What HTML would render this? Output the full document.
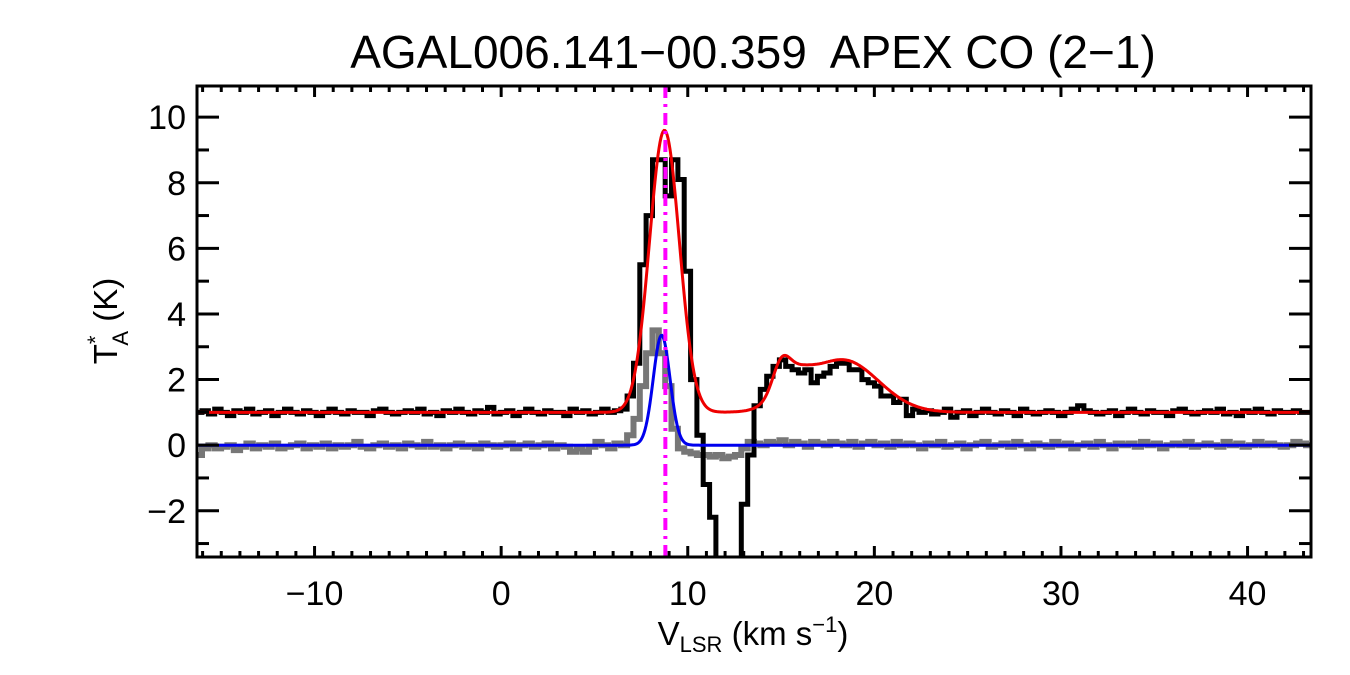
<!DOCTYPE html>
<html><head><meta charset="utf-8">
<style>
html,body{margin:0;padding:0;background:#fff;}
svg{display:block;font-family:"Liberation Sans",Arial,sans-serif;}
</style></head>
<body>
<svg id="chart" width="1350" height="675" viewBox="0 0 1350 675">
<text x="753" y="68" text-anchor="middle" font-size="46" xml:space="preserve">AGAL006.141−00.359  APEX CO (2−1)</text>
<g id="plot"></g>
<text transform="translate(117,321) rotate(-90)" text-anchor="middle" font-size="33">T<tspan font-size="22" dy="-14">*</tspan><tspan font-size="22" dx="-10" dy="25">A</tspan><tspan dy="-11"> (K)</tspan></text>
<text x="753" y="645" text-anchor="middle" font-size="33">V<tspan font-size="22" dy="7">LSR</tspan><tspan dy="-7"> (km s</tspan><tspan font-size="22" dy="-13">−1</tspan><tspan dy="13">)</tspan></text>
</svg>
<script>
// ---- data ----
const v0 = -16.2, dv = 0.34;
const blackT = [
1.0,1.05,0.95,1.1,1.0,0.9,1.05,1.0,1.1,0.95,1.0,1.05,0.9,1.0,1.1,1.0,0.95,1.05,1.0,0.9,
1.0,1.1,1.0,0.95,1.05,1.0,1.0,0.9,1.05,1.1,1.0,0.95,1.0,1.05,1.0,1.1,0.95,1.0,0.9,1.05,
1.0,1.1,1.0,0.95,1.05,1.0,1.15,0.95,1.0,1.05,0.9,1.0,1.1,1.0,0.95,1.05,1.0,1.0,0.9,1.1,
1.0,1.05,0.95,1.0,1.1,1.0,1.05,1.1,1.5,2.5,5.5,7.0,8.7,8.7,7.6,8.7,8.1,5.3,2.0,0.3,
-1.2,-2.2,-4,-4,-4,-4,-1.8,-0.3,1.2,1.7,2.1,2.4,2.6,2.4,2.3,2.2,2.3,1.9,2.1,2.2,
2.4,2.5,2.5,2.3,2.3,2.0,1.9,1.8,1.5,1.5,1.3,1.4,0.9,1.1,1.0,1.05,0.95,1.0,1.1,0.85,
1.0,1.05,0.9,1.0,1.1,1.0,0.95,1.05,1.0,0.9,1.1,1.0,0.95,1.0,1.05,1.0,0.9,1.0,1.1,1.2,
1.05,1.0,0.95,1.0,1.05,0.9,1.0,1.1,1.0,0.95,1.05,1.0,1.0,0.9,1.05,1.1,1.0,0.95,1.0,1.05,
1.0,1.1,0.95,1.0,0.9,1.05,1.0,1.1,1.0,0.95,1.05,1.0,1.0,1.05,1.0,1.0];
const greyT = [
-0.3,-0.1,0.0,-0.1,-0.05,0.0,-0.15,-0.05,0.05,-0.1,0.0,-0.05,0.05,-0.1,-0.05,0.0,0.05,-0.1,0.0,-0.05,
0.05,-0.1,0.0,-0.05,0.0,0.1,-0.05,-0.1,0.0,0.05,-0.05,0.0,-0.1,0.05,0.0,-0.05,0.1,-0.05,0.0,-0.1,
0.0,0.05,-0.05,0.0,-0.1,0.05,0.0,-0.05,0.0,0.05,-0.1,0.0,0.05,-0.05,0.0,0.05,-0.1,0.0,-0.05,-0.2,
-0.1,-0.2,-0.05,0.1,0.0,-0.1,0.05,0.0,0.3,0.8,1.8,2.8,3.5,2.8,1.8,0.5,-0.1,-0.2,-0.25,-0.3,
-0.3,-0.35,-0.3,-0.4,-0.35,-0.3,-0.1,0.1,0.05,0.0,0.1,0.05,0.15,0.0,0.1,0.05,-0.05,0.1,0.05,0.0,
0.1,0.05,0.0,0.1,-0.05,0.05,0.1,0.0,0.05,-0.05,0.1,0.0,0.05,0.0,-0.1,0.05,0.0,0.1,-0.05,0.0,
0.05,-0.1,0.0,0.05,0.1,-0.05,0.0,0.05,-0.05,0.1,0.0,-0.1,0.05,0.0,-0.05,0.1,0.0,0.05,-0.1,0.0,
0.05,-0.05,0.1,0.0,-0.1,0.05,0.0,0.05,-0.05,0.1,0.0,0.05,-0.1,0.0,0.05,0.0,0.1,-0.05,0.0,0.05,
0.0,-0.05,0.1,0.0,0.05,-0.05,0.0,0.1,0.0,0.05,0.0,-0.05,0.0,0.1,0.05,0.0];
const redBase = 1.0;
const redAmp = [8.6, 0.75, 1.6, 0.7];
const redCen = [8.75, 15.0, 18.3, 15.6];
const redSig = [0.8, 0.45, 1.9, 0.9];
const blueAmp = [3.35];
const blueCen = [8.6];
const blueSig = [0.45];
const markerV = 8.8;
const xTicks = [-10, 0, 10, 20, 30, 40];
const yTicks = [-2, 0, 2, 4, 6, 8, 10];

// ---- axes ----
const L = 197, R = 1311, T = 86, B = 557;
const xMin = -16.3, xMax = 43.4, yMin = -3.41, yMax = 10.95;
const sx = v => L + (v - xMin) / (xMax - xMin) * (R - L);
const sy = t => B - (t - yMin) / (yMax - yMin) * (B - T);
const NS = "http://www.w3.org/2000/svg";
const plot = document.getElementById('plot');
function mk(tag, attrs, parent) {
  const e = document.createElementNS(NS, tag);
  for (const k in attrs) e.setAttribute(k, attrs[k]);
  (parent || plot).appendChild(e);
  return e;
}
const defs = mk('defs', {});
const cp = mk('clipPath', {id: 'clip'}, defs);
mk('rect', {x: L, y: T, width: R - L, height: B - T}, cp);
const g = mk('g', {'clip-path': 'url(#clip)'});

function stepPath(arr) {
  let d = '';
  arr.forEach((t, i) => {
    const xa = sx(v0 + i * dv - dv / 2), xb = sx(v0 + i * dv + dv / 2), y = sy(t);
    d += (i === 0 ? 'M' : 'L') + xa.toFixed(1) + ',' + y.toFixed(1) + 'L' + xb.toFixed(1) + ',' + y.toFixed(1);
  });
  return d;
}
function gaussPath(base, amp, cen, sig) {
  let d = '';
  for (let px = L; px <= R; px += 1) {
    const v = xMin + (px - L) / (R - L) * (xMax - xMin);
    let t = base;
    for (let k = 0; k < amp.length; k++) t += amp[k] * Math.exp(-0.5 * Math.pow((v - cen[k]) / sig[k], 2));
    d += (px === L ? 'M' : 'L') + px + ',' + sy(t).toFixed(1);
  }
  return d;
}
const gp = mk('path', {d: stepPath(greyT), fill: 'none', stroke: '#777', 'stroke-width': 6}, g);


const bp = mk('path', {d: stepPath(blackT), fill: 'none', stroke: '#000', 'stroke-width': 5}, g);


const blp = mk('path', {d: gaussPath(0, blueAmp, blueCen, blueSig), fill: 'none', stroke: '#0000ee', 'stroke-width': 3}, g);


const rp = mk('path', {d: gaussPath(redBase, redAmp, redCen, redSig), fill: 'none', stroke: '#ee0000', 'stroke-width': 3}, g);


const ml = mk('line', {x1: sx(markerV), x2: sx(markerV), y1: T, y2: B, stroke: '#ff00ff', 'stroke-width': 4, 'stroke-dasharray': '12,6,3,6'}, g);



// frame
const fr = mk('rect', {x: L, y: T, width: R - L, height: B - T, fill: 'none', stroke: '#000', 'stroke-width': 3});


// x ticks
for (let v = Math.ceil(xMin); v <= xMax; v++) {
  const major = v % 10 === 0, len = major ? 11 : 6, x = sx(v);
  mk('line', {x1: x, x2: x, y1: B, y2: B - len, stroke: '#000', 'stroke-width': 3});
  mk('line', {x1: x, x2: x, y1: T, y2: T + len, stroke: '#000', 'stroke-width': 3});
}
xTicks.forEach(v => {
  const t = mk('text', {x: sx(v), y: 605, 'text-anchor': 'middle', 'font-size': 34});
  t.textContent = v < 0 ? '−' + Math.abs(v) : String(v);
  
  
});
// y ticks
for (let t = Math.ceil(yMin); t <= yMax; t++) {
  const major = t % 2 === 0, len = major ? 22 : 12, y = sy(t);
  mk('line', {x1: L, x2: L + len, y1: y, y2: y, stroke: '#000', 'stroke-width': 3});
  mk('line', {x1: R, x2: R - len, y1: y, y2: y, stroke: '#000', 'stroke-width': 3});
}
yTicks.forEach(t => {
  const e = mk('text', {x: 186, y: sy(t) + 12, 'text-anchor': 'end', 'font-size': 34});
  e.textContent = t < 0 ? '−' + Math.abs(t) : String(t);
  
  
});
</script>
</body></html>
